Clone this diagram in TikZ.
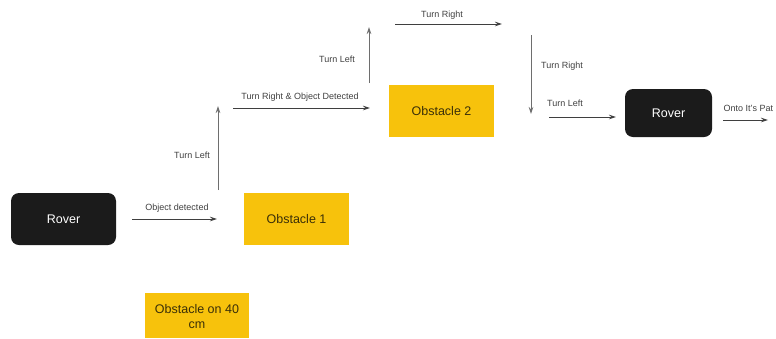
\documentclass[tikz,border=0pt]{standalone}
\usepackage{fontspec}
\setmainfont{Liberation Sans}
\usetikzlibrary{arrows.meta}
\definecolor{roverfill}{HTML}{1B1B1B}
\definecolor{obsfill}{HTML}{F7C20C}
\definecolor{obstext}{HTML}{3A2F08}
\definecolor{linegray}{HTML}{3F3F3F}
\definecolor{vgray}{HTML}{6E6E6E}
\definecolor{labelgray}{HTML}{404040}
\tikzset{
  rover/.style={draw=none, fill=roverfill, rounded corners=8pt, text=white, font=\fontsize{12.5}{14.5}\selectfont, inner sep=0pt},
  obstacle/.style={draw=none, fill=obsfill, text=obstext, font=\fontsize{12.5}{14.5}\selectfont, inner sep=0pt, align=center},
  lbl/.style={text=labelgray, font=\fontsize{9}{10.5}\selectfont, inner sep=0pt},
  harrow/.style={draw=linegray, line width=0.8pt, -{Stealth[length=7pt,width=4.5pt]}},
  varrow/.style={draw=vgray, line width=0.8pt, -{Stealth[length=7pt,width=4.5pt]}}
}
\begin{document}
\begin{tikzpicture}[x=1pt,y=-1pt]
\useasboundingbox (0,0) rectangle (776,338);
% boxes
\node[rover, minimum width=105pt, minimum height=52pt] (rover1) at (63.5,219) {Rover};
\node[obstacle, minimum width=105pt, minimum height=52pt] (obs1) at (296.5,219) {Obstacle 1};
\node[obstacle, minimum width=105pt, minimum height=52pt] (obs2) at (441.5,111) {Obstacle 2};
\node[rover, minimum width=87pt, minimum height=48pt] (rover2) at (668.5,113) {Rover};
\fill[obsfill] (145,293) rectangle (249,338);
\node[obstacle, fill=none] (obs40) at (197,316.5) {Obstacle on 40\\cm};
% arrow end points
\coordinate (a1s) at (132,219); \coordinate (a1e) at (217,219);
\coordinate (v1s) at (218,190); \coordinate (v1e) at (218,106);
\coordinate (a2s) at (233,108); \coordinate (a2e) at (370,108);
\coordinate (v2s) at (369,83);  \coordinate (v2e) at (369,27);
\coordinate (a3s) at (395,24);  \coordinate (a3e) at (502,24);
\coordinate (v3s) at (531,35);  \coordinate (v3e) at (531,114);
\coordinate (a4s) at (549,117); \coordinate (a4e) at (616,117);
\coordinate (a5s) at (723,120); \coordinate (a5e) at (768,120);
% connectors
\draw[harrow] (a1s) -- (a1e);
\draw[varrow] (v1s) -- (v1e);
\draw[harrow] (a2s) -- (a2e);
\draw[varrow] (v2s) -- (v2e);
\draw[harrow] (a3s) -- (a3e);
\draw[varrow] (v3s) -- (v3e);
\draw[harrow] (a4s) -- (a4e);
\draw[harrow] (a5s) -- (a5e);
% labels
\node[lbl] (l1) at (177,208) {Object detected};
\node[lbl] (l2) at (192,155) {Turn Left};
\node[lbl] (l3) at (300,97) {Turn Right \& Object Detected};
\node[lbl] (l4) at (337,59) {Turn Left};
\node[lbl] (l5) at (442,15) {Turn Right};
\node[lbl] (l6) at (562,66) {Turn Right};
\node[lbl] (l7) at (565,103) {Turn Left};
\node[lbl, anchor=west] (l8) at (723.5,108) {Onto It's Pat};
\end{tikzpicture}
\end{document}
